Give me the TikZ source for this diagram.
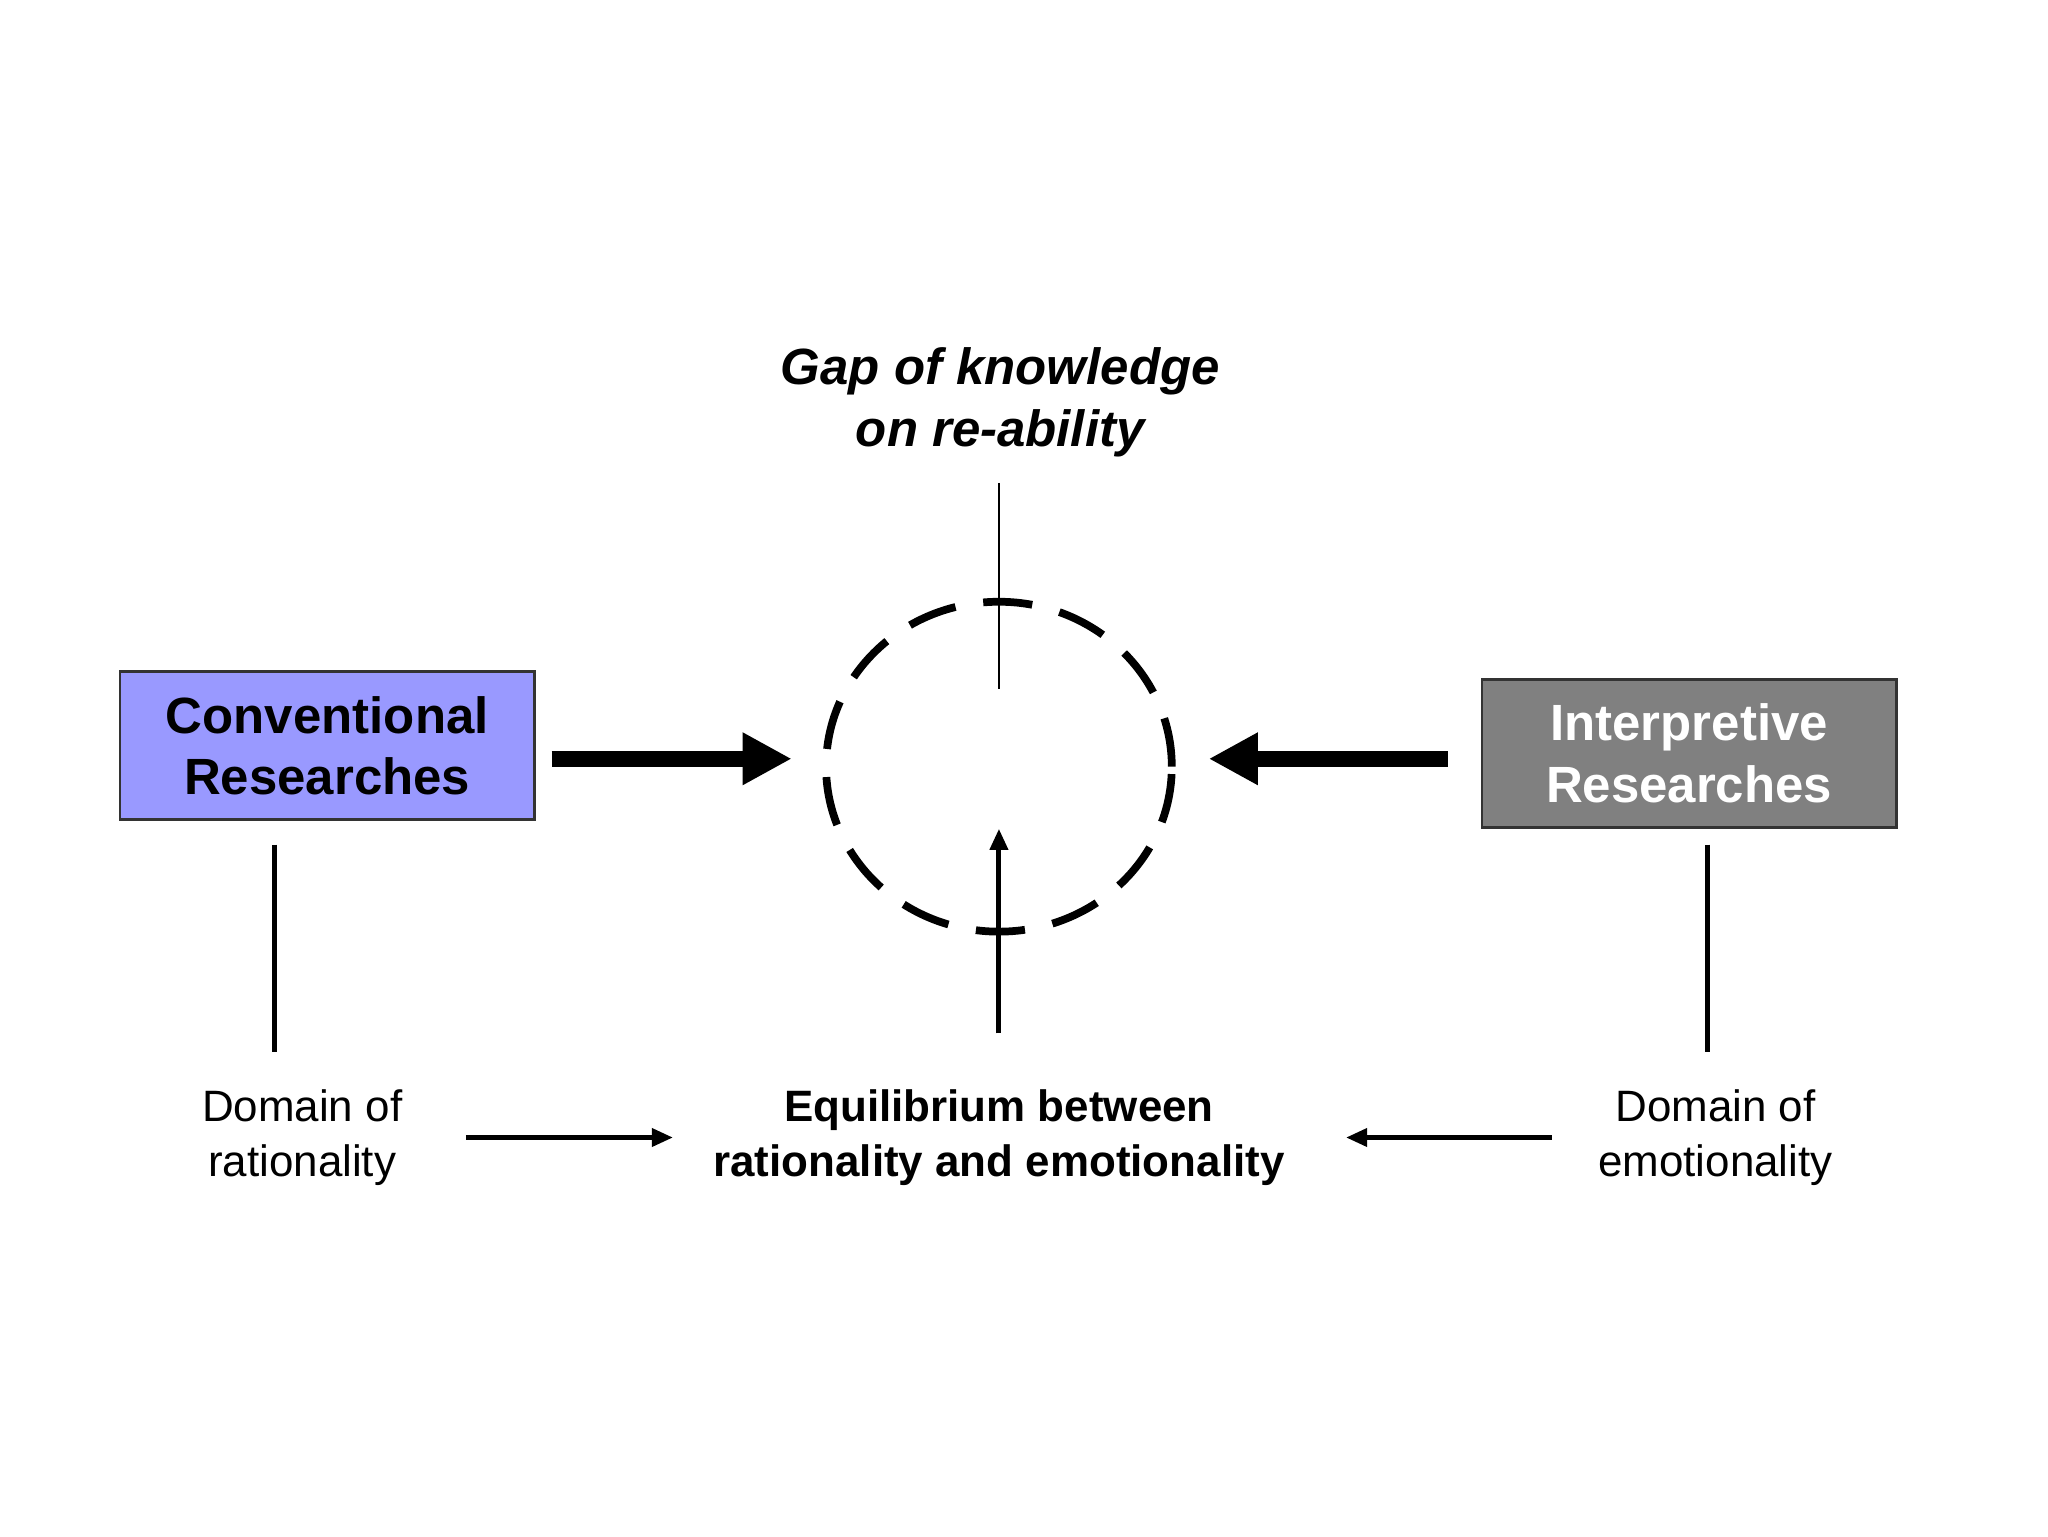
\documentclass[tikz,border=0pt]{standalone}
\usepackage{fontspec}
\setmainfont{Liberation Sans}
\usetikzlibrary{arrows.meta,shapes.geometric}
\begin{document}
\begin{tikzpicture}[x=0.0132cm,y=-0.0132cm,
  box/.style={draw=black!80,line width=0.8pt,minimum width=314*0.0132cm,minimum height=112*0.0132cm,align=center,font=\fontsize{14.5}{17.5}\selectfont\bfseries},
  lbl/.style={align=center,font=\fontsize{12.5}{15.5}\selectfont},
  thick arrow/.style={line width=4.5pt,-{Triangle[length=14pt,width=14pt]}},
  thin arrow/.style={line width=1.4pt,-{Triangle[length=6pt,width=5pt]}},
  bar/.style={line width=1.6pt}]
\useasboundingbox (0,0) rectangle (1552,1164);
\node[box,fill={rgb,255:red,153;green,153;blue,255}] (conv) at (248,565) {Conventional\\Researches};
\node[box,fill={rgb,255:red,128;green,128;blue,128},text=white] (interp) at (1280,571) {Interpretive\\Researches};
\node[draw,line width=2.2pt,dash pattern=on 14pt off 8pt,ellipse,minimum width=262*0.0132cm,minimum height=250*0.0132cm,inner sep=0pt] (gapc) at (757,581) {};
\node[lbl,font=\fontsize{14.5}{17.5}\selectfont\bfseries\itshape] (gap) at (758,305) {Gap of knowledge\\on re-ability};
\node[lbl] (dr) at (229,862) {Domain of\\rationality};
\node[lbl,font=\fontsize{12.5}{15.5}\selectfont\bfseries] (eq) at (757,862) {Equilibrium between\\rationality and emotionality};
\node[lbl] (de) at (1300,862) {Domain of\\emotionality};
\coordinate (a1) at (418,575); \coordinate (a2) at (600,575);
\coordinate (b1) at (1097,575); \coordinate (b2) at (916,575);
\draw[thick arrow] (a1) -- (a2);
\draw[thick arrow] (b1) -- (b2);
\coordinate (g1) at (757,366); \coordinate (g2) at (757,522);
\draw[line width=0.8pt] (g1) -- (g2);
\coordinate (u1) at (757,783); \coordinate (u2) at (757,628);
\draw[thin arrow] (u1) -- (u2);
\coordinate (l1) at (208,640); \coordinate (l2) at (208,797);
\draw[bar] (l1) -- (l2);
\coordinate (r1) at (1294,640); \coordinate (r2) at (1294,797);
\draw[bar] (r1) -- (r2);
\coordinate (h1) at (353,862); \coordinate (h2) at (510,862);
\draw[thin arrow] (h1) -- (h2);
\coordinate (k1) at (1176,862); \coordinate (k2) at (1020,862);
\draw[thin arrow] (k1) -- (k2);
\end{tikzpicture}
\end{document}
